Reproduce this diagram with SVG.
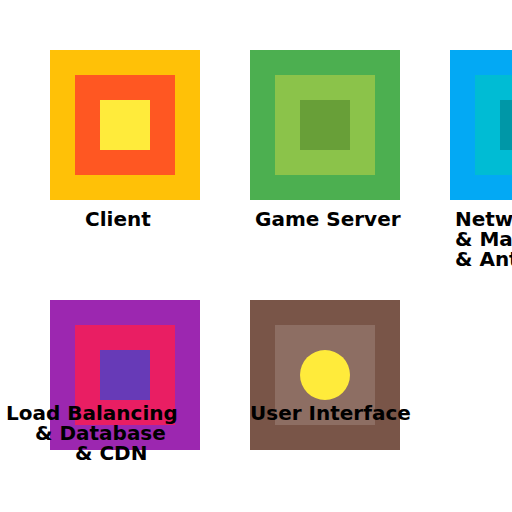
<svg xmlns="http://www.w3.org/2000/svg" width="512" height="512" viewBox="0 0 512 512">
<style>
text{font-family:"DejaVu Sans",sans-serif;font-weight:bold;font-size:20px;fill:#000}
</style>
<rect width="512" height="512" fill="#fff"/>
<g id="client">
<rect x="50" y="50" width="150" height="150" fill="#FFC107"/>
<rect x="75" y="75" width="100" height="100" fill="#FF5722"/>
<rect x="100" y="100" width="50" height="50" fill="#FFEB3B"/>
<text x="85" y="226">Client</text>
</g>
<g id="game-server">
<rect x="250" y="50" width="150" height="150" fill="#4CAF50"/>
<rect x="275" y="75" width="100" height="100" fill="#8BC34A"/>
<rect x="300" y="100" width="50" height="50" fill="#689F38"/>
<text x="255" y="226">Game Server</text>
</g>
<g id="network">
<rect x="450" y="50" width="150" height="150" fill="#03A9F4"/>
<rect x="475" y="75" width="100" height="100" fill="#00BCD4"/>
<rect x="500" y="100" width="50" height="50" fill="#0097A7"/>
<text x="455" y="226">Network</text>
<text x="455" y="246">&amp; Matchmaking</text>
<text x="455" y="266">&amp; Anti-Cheat</text>
</g>
<g id="load-balancing">
<rect x="50" y="300" width="150" height="150" fill="#9C27B0"/>
<rect x="75" y="325" width="100" height="100" fill="#E91E63"/>
<rect x="100" y="350" width="50" height="50" fill="#673AB7"/>
<text x="6" y="420">Load Balancing</text>
<text x="35" y="440">&amp; Database</text>
<text x="75" y="460">&amp; CDN</text>
</g>
<g id="user-interface">
<rect x="250" y="300" width="150" height="150" fill="#795548"/>
<rect x="275" y="325" width="100" height="100" fill="#8D6E63"/>
<circle cx="325" cy="375" r="25" fill="#FFEB3B"/>
<text x="250" y="420">User Interface</text>
</g>
<g id="connectors"/>
</svg>
